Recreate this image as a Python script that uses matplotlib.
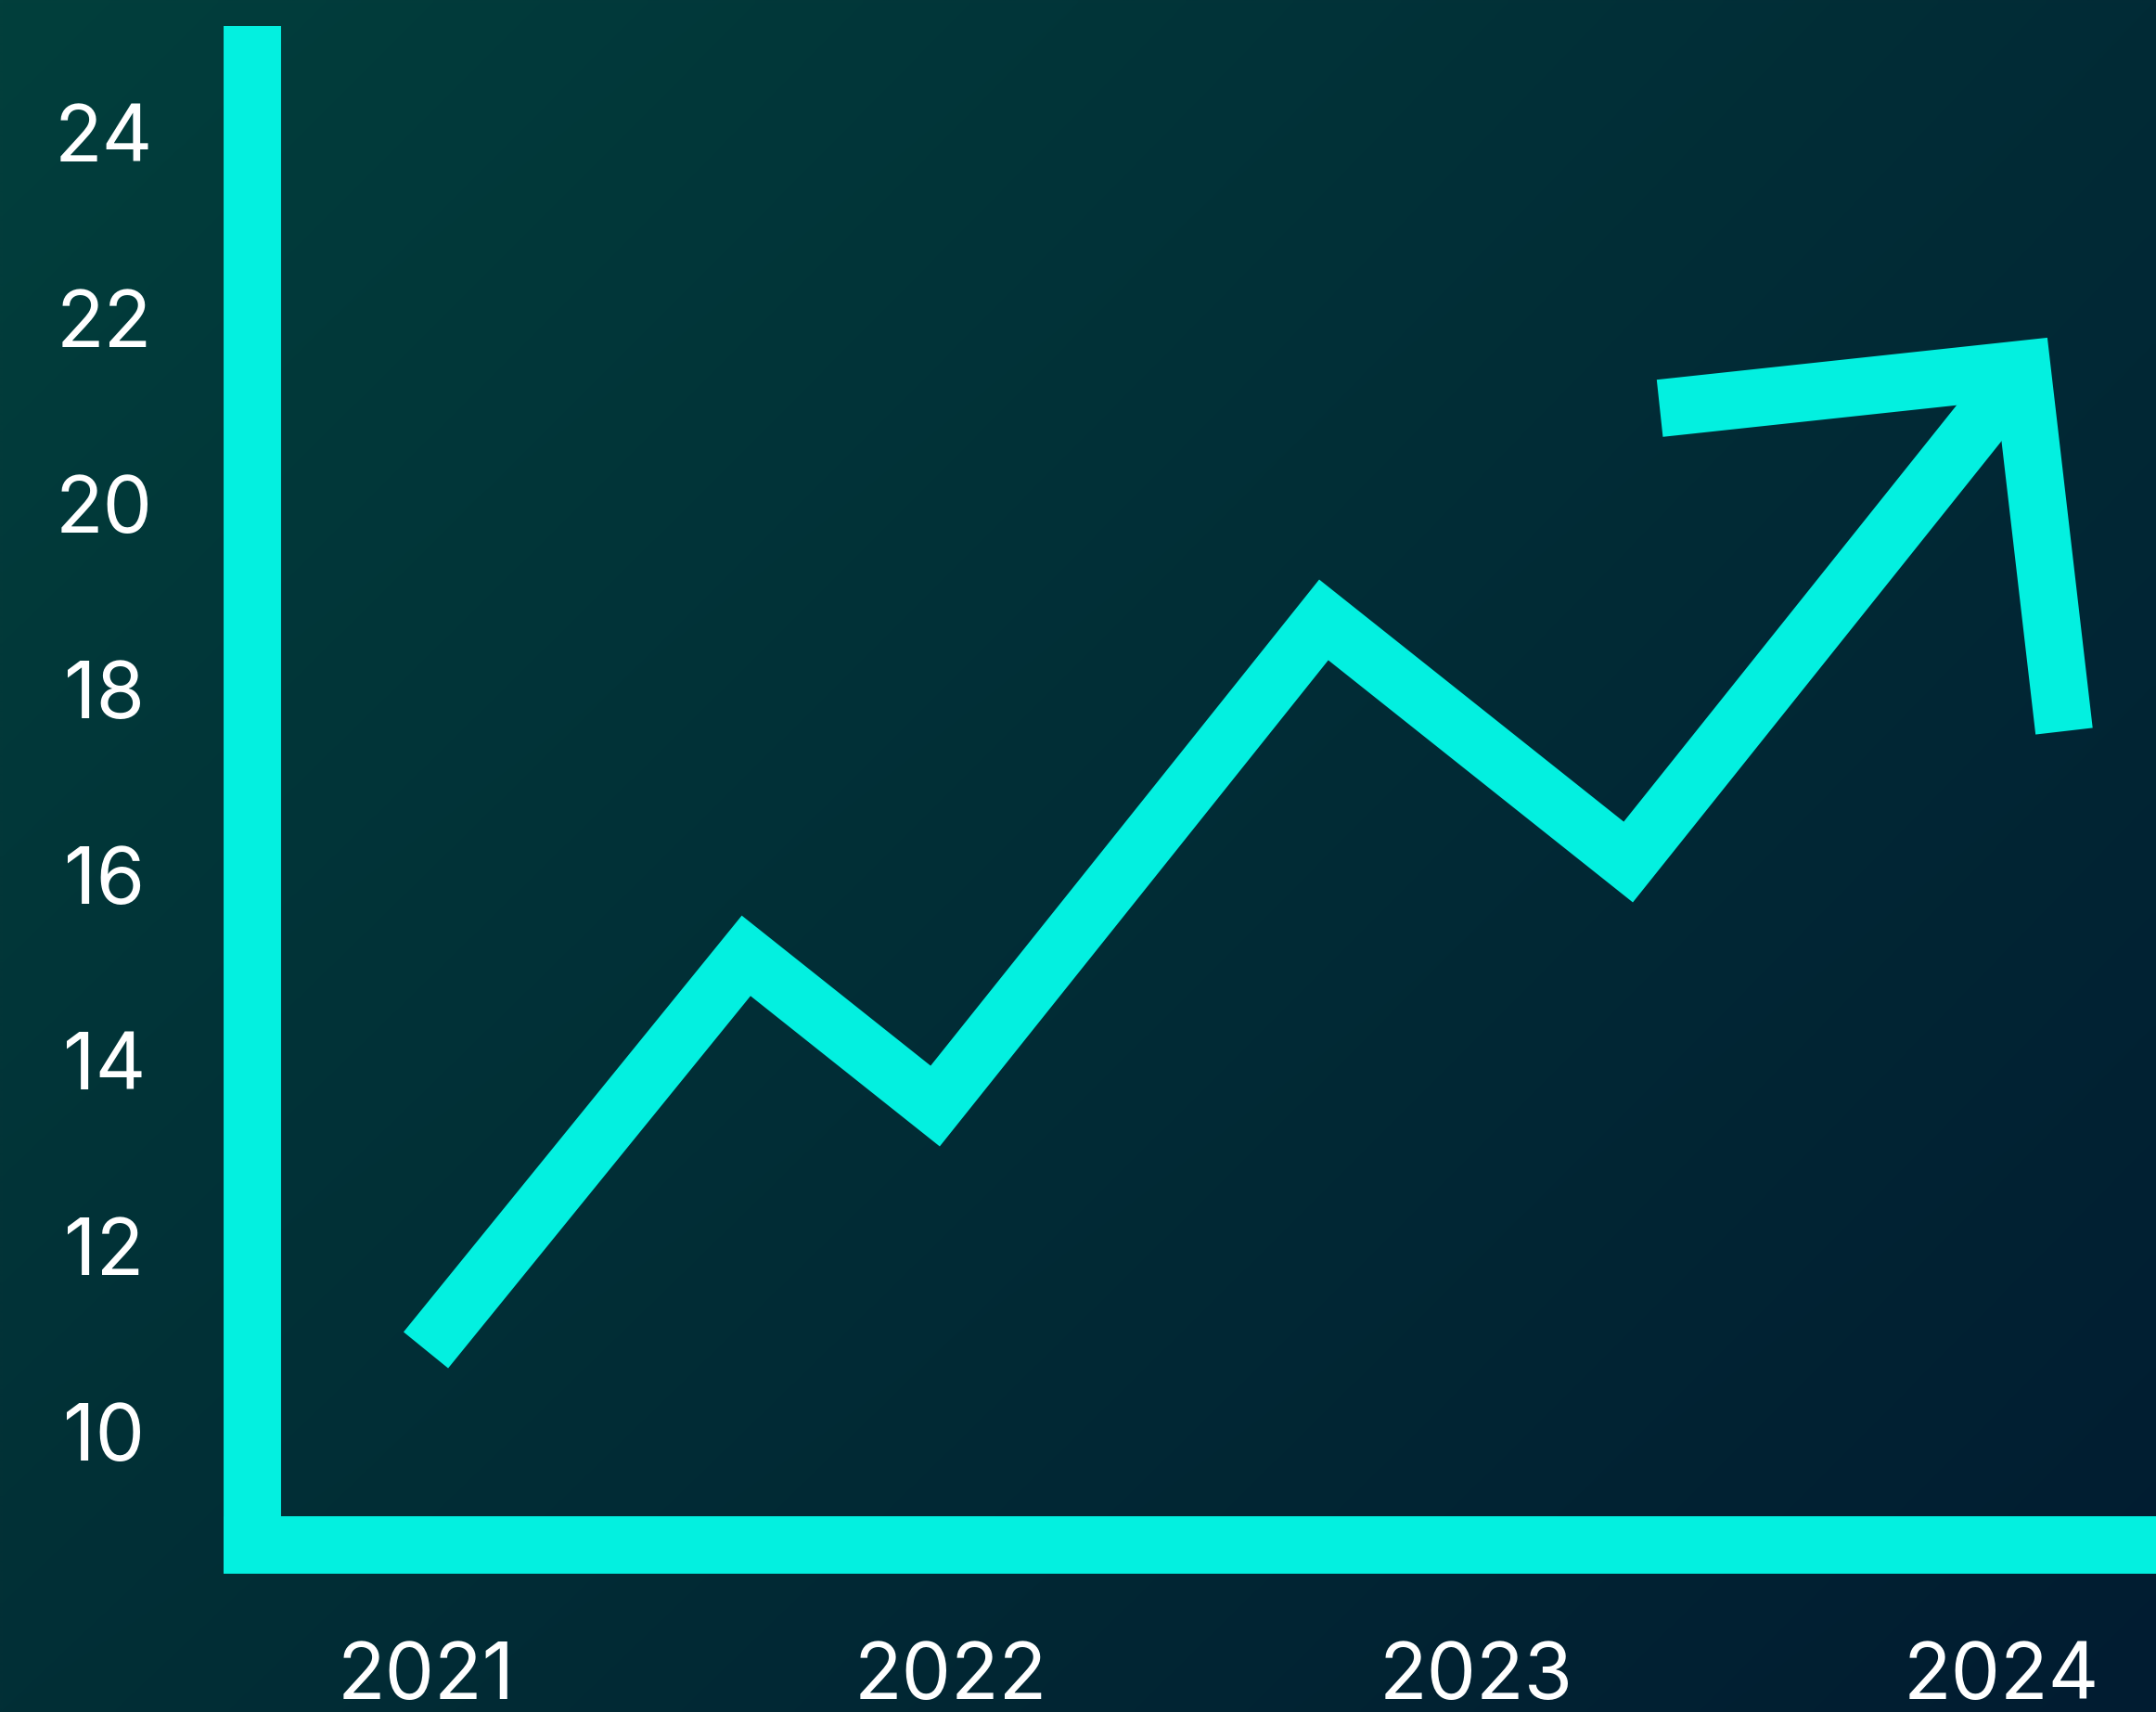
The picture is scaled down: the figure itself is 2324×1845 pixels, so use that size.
import numpy as np
import matplotlib
matplotlib.use("Agg")
import matplotlib.pyplot as plt

plt.rcParams["font.family"] = ["Inter", "DejaVu Sans"]

# trend line (fractional year, value)
years = [2021.0, 2021.61, 2021.97, 2022.71, 2023.29, 2024.04]
values = [10.88, 15.13, 13.51, 18.75, 16.14, 21.45]

# arrow head arms, meeting at the last point of the trend
head_years = [2023.35, 2024.04, 2024.12]
head_values = [21.03, 21.45, 17.55]

year_ticks = [2021, 2022, 2023, 2024]
value_ticks = [10, 12, 14, 16, 18, 20, 22, 24]

CYAN = "#03f0e0"
LW = 44.6  # points, ~62 px at 100 dpi

fig = plt.figure(figsize=(23.24, 18.45), dpi=100)
ax = fig.add_axes([0, 0, 1, 1])

# diagonal dark teal -> navy background
tl = np.array([2, 63, 60]) / 255
tr = np.array([2, 43, 54]) / 255
bl = np.array([2, 47, 54]) / 255
br = np.array([1, 28, 49]) / 255
u = np.linspace(0, 1, 400)[None, :, None]
v = np.linspace(0, 1, 320)[:, None, None]
bg = (1 - v) * (1 - u) * tl + (1 - v) * u * tr + v * (1 - u) * bl + v * u * br
ax.imshow(bg, extent=[0, 1, 0, 1], transform=ax.transAxes, aspect="auto",
          origin="upper", interpolation="bilinear", zorder=0)

ax.plot(years, values, color=CYAN, lw=LW, solid_joinstyle="miter",
        solid_capstyle="butt", zorder=3)
ax.plot(head_years, head_values, color=CYAN, lw=LW, solid_joinstyle="miter",
        solid_capstyle="butt", zorder=3)

ax.set_xlim(2020.189, 2024.295)
ax.set_ylim(6.98, 25.43)

for side in ("top", "right"):
    ax.spines[side].set_visible(False)
ax.spines["left"].set_position(("data", 2020.669))
ax.spines["bottom"].set_position(("data", 8.78))
for side in ("left", "bottom"):
    sp = ax.spines[side]
    sp.set_linewidth(LW)
    sp.set_color(CYAN)
    sp.set_capstyle("butt")
    sp.set_zorder(4)
ax.spines["left"].set_bounds(8.50, 25.15)
ax.spines["bottom"].set_bounds(2020.615, 2024.295)

ax.set_xticks(year_ticks, labels=[str(y) for y in year_ticks])
ax.set_yticks(value_ticks, labels=[str(t) for t in value_ticks])
ax.tick_params(length=0, labelcolor="white", labelsize=61)
ax.tick_params(axis="y", pad=114.8)
ax.tick_params(axis="x", pad=97)
for lab in ax.get_yticklabels():
    lab.set_horizontalalignment("center")
for lab in ax.get_xticklabels():
    lab.set_verticalalignment("center_baseline")

fig.savefig("out.png", dpi=100)
